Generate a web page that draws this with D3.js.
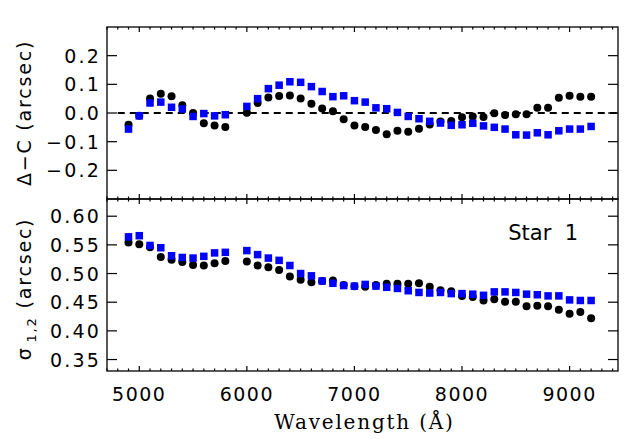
<!DOCTYPE html>
<html><head><meta charset="utf-8">
<script src="https://cdn.jsdelivr.net/npm/d3@7"></script>
<style>html,body{margin:0;padding:0;background:#fff;}svg{display:block;}</style>
</head><body>
<svg id="chart" width="628" height="439"></svg>
<script>
// ---- data ----
const wavelength = [4900,5000,5100,5200,5300,5400,5500,5600,5700,5800,
  6000,6100,6200,6300,6400,6500,6600,6700,6800,6900,7000,7100,7200,7300,7400,7500,7600,7700,7800,7900,
  8000,8100,8200,8300,8400,8500,8600,8700,8800,8900,9000,9100,9200];
const dcBlack = [-0.041,-0.010,0.051,0.067,0.058,0.027,0.000,-0.036,-0.044,-0.049,
  0.001,0.035,0.054,0.059,0.061,0.051,0.032,0.016,0.006,-0.022,-0.044,-0.049,-0.059,-0.074,-0.062,-0.065,-0.055,-0.040,-0.030,-0.028,
  -0.015,-0.012,-0.014,-0.001,-0.007,-0.004,-0.004,0.018,0.018,0.053,0.060,0.057,0.057];
const dcBlue = [-0.056,-0.010,0.035,0.038,0.020,0.014,-0.012,-0.002,-0.010,-0.006,
  0.023,0.050,0.085,0.097,0.109,0.107,0.092,0.075,0.057,0.060,0.043,0.038,0.018,0.015,0.002,-0.012,-0.020,-0.029,-0.035,-0.043,
  -0.041,-0.036,-0.045,-0.050,-0.056,-0.076,-0.077,-0.069,-0.076,-0.062,-0.056,-0.056,-0.047];
const sigBlack = [0.554,0.551,0.546,0.529,0.524,0.520,0.515,0.514,0.518,0.522,
  0.521,0.514,0.511,0.506,0.495,0.489,0.485,0.487,0.488,0.480,0.478,0.477,0.480,0.482,0.482,0.482,0.483,0.477,0.471,0.469,
  0.461,0.459,0.453,0.455,0.451,0.451,0.443,0.444,0.443,0.437,0.430,0.433,0.422];
const sigBlue = [0.564,0.566,0.549,0.545,0.531,0.528,0.527,0.530,0.536,0.537,
  0.540,0.533,0.527,0.523,0.514,0.500,0.496,0.487,0.483,0.479,0.478,0.481,0.478,0.476,0.474,0.470,0.467,0.466,0.467,0.465,
  0.465,0.464,0.462,0.468,0.468,0.467,0.464,0.463,0.461,0.461,0.454,0.453,0.453];
const xTicks = [5000,6000,7000,8000,9000];
const topTicks = [-0.2,-0.1,0.0,0.1,0.2];
const botTicks = [0.35,0.40,0.45,0.50,0.55,0.60];

// ---- layout ----
const svg = d3.select("#chart");
const L = 107, R = 618, T1 = 27, B1 = 199, T2 = 199, B2 = 371;
const x = d3.scaleLinear().domain([4700, 9450]).range([L, R]);
const yTop = d3.scaleLinear().domain([-0.3, 0.3]).range([B1, T1]);
const yBot = d3.scaleLinear().domain([0.33, 0.63]).range([B2, T2]);
const minorX = d3.range(4700, 9451, 100);
const fmtMinus = s => s.replace("-", "\u2212");

function panel(y, top, bot, yt, fmt) {
  const g = svg.append("g");
  g.append("rect").attr("x", L).attr("y", top).attr("width", R - L).attr("height", bot - top)
    .attr("fill", "none").attr("stroke", "#000").attr("stroke-width", 1.3);
  minorX.forEach(v => {
    const major = v % 1000 === 0;
    const len = major ? 5 : 2.5;
    g.append("line").attr("x1", x(v)).attr("x2", x(v)).attr("y1", bot).attr("y2", bot - len)
      .attr("stroke", "#000").attr("stroke-width", 1.2);
    g.append("line").attr("x1", x(v)).attr("x2", x(v)).attr("y1", top).attr("y2", top + len)
      .attr("stroke", "#000").attr("stroke-width", 1.2);
  });
  yt.forEach(v => {
    g.append("line").attr("x1", L).attr("x2", L + 10).attr("y1", y(v)).attr("y2", y(v))
      .attr("stroke", "#000").attr("stroke-width", 1.2);
    g.append("line").attr("x1", R).attr("x2", R - 10).attr("y1", y(v)).attr("y2", y(v))
      .attr("stroke", "#000").attr("stroke-width", 1.2);
    g.append("text").attr("x", 101).attr("y", y(v) + 7).attr("text-anchor", "end")
      .attr("font-family", "DejaVu Sans").attr("font-size", 19).attr("letter-spacing", 2.2)
      .text(fmtMinus(d3.format(fmt)(v)));
  });
  return g;
}

const g1 = panel(yTop, T1, B1, topTicks, ".1f");
const g2 = panel(yBot, T2, B2, botTicks, ".2f");

g1.append("line").attr("x1", x(4800)).attr("x2", x(9450)).attr("y1", yTop(0)).attr("y2", yTop(0))
  .attr("stroke", "#000").attr("stroke-width", 2).attr("stroke-dasharray", "7,5");

function points(g, y, blk, blu) {
  g.selectAll(null).data(wavelength).enter().append("circle")
    .attr("cx", d => x(d)).attr("cy", (d, i) => y(blk[i])).attr("r", 4).attr("fill", "#000");
  const s = 7.5;
  g.selectAll(null).data(wavelength).enter().append("rect")
    .attr("x", d => x(d) - s / 2).attr("y", (d, i) => y(blu[i]) - s / 2)
    .attr("width", s).attr("height", s).attr("fill", "#0000ff");
}
points(g1, yTop, dcBlack, dcBlue);
points(g2, yBot, sigBlack, sigBlue);

xTicks.forEach(v => {
  svg.append("text").attr("x", x(v)).attr("y", 401).attr("text-anchor", "middle")
    .attr("font-family", "DejaVu Sans").attr("font-size", 19).attr("letter-spacing", 1.5)
    .text(v);
});

svg.append("text").attr("x", (L + R) / 2 + 2).attr("y", 429).attr("text-anchor", "middle")
  .attr("font-family", "DejaVu Serif").attr("font-size", 20).attr("letter-spacing", 1.8)
  .text("Wavelength (\u00C5)");

svg.append("text").attr("transform", `translate(31,${(T1 + B1) / 2}) rotate(-90)`)
  .attr("text-anchor", "middle").attr("font-family", "DejaVu Sans").attr("font-size", 19)
  .attr("letter-spacing", 1.8).text("\u0394\u2212C  (arcsec)");

const t2 = svg.append("text").attr("transform", `translate(31,${(T2 + B2) / 2 + 4}) rotate(-90)`)
  .attr("text-anchor", "middle").attr("font-family", "DejaVu Sans").attr("font-size", 19)
  .attr("letter-spacing", 1.8);
t2.append("tspan").text("\u03C3");
t2.append("tspan").attr("font-size", 13).attr("dy", 5).attr("dx", 4).text("1,2");
t2.append("tspan").attr("dy", -5).attr("dx", 8).text("(arcsec)");

svg.append("text").attr("x", 578).attr("y", 240).attr("text-anchor", "end")
  .attr("font-family", "DejaVu Sans").attr("font-size", 21)
  .style("white-space", "pre").text("Star  1");
</script>
</body></html>
